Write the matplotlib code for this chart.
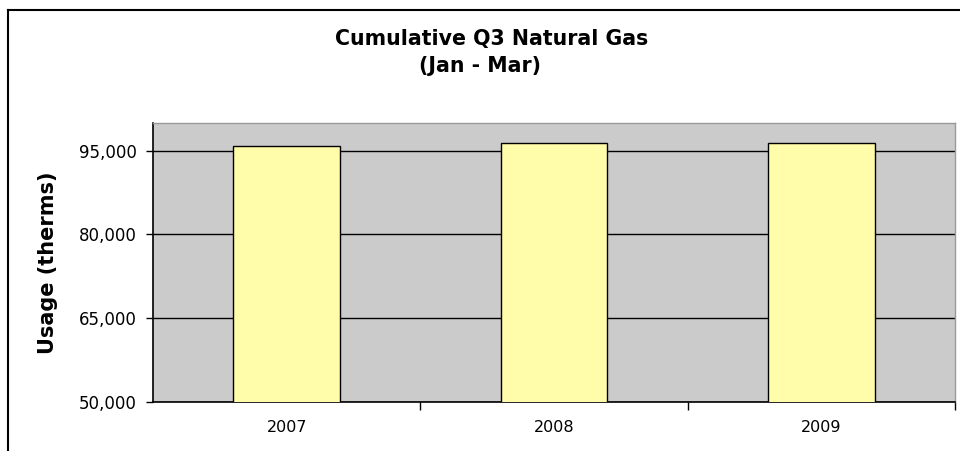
import matplotlib
matplotlib.use("Agg")
import matplotlib.pyplot as plt
from matplotlib.lines import Line2D
from matplotlib.ticker import FuncFormatter, FixedLocator

years = ["2007", "2008", "2009"]
usage = [95900, 96380, 96380]
yticks = [50000, 65000, 80000, 95000]

fig = plt.figure(figsize=(9.6, 4.51), dpi=100)
fig.patch.set_facecolor("white")

# figure border (top and left visible)
fig.add_artist(Line2D([8/960, 8/960], [0, 1 - 10/451], transform=fig.transFigure,
                      color="black", lw=1.5))
fig.add_artist(Line2D([8/960, 1], [1 - 10/451, 1 - 10/451], transform=fig.transFigure,
                      color="black", lw=1.5))

ax = fig.add_axes([153/960, (451-402)/451, (955-153)/960, (402-122.7)/451])
ax.set_facecolor("#CBCBCB")
x = list(range(len(years)))
ax.bar(x, usage, width=0.4, bottom=0, color="#FFFCAA", edgecolor="black", linewidth=1.0, zorder=3)
ax.set_xlim(-0.5, len(years) - 0.5)
ax.set_ylim(50000, 100000)
ax.yaxis.set_major_locator(FixedLocator(yticks))
ax.yaxis.set_major_formatter(FuncFormatter(lambda v, p: f"{int(v):,}"))
ax.grid(axis="y", color="black", lw=1.0, zorder=1)
ax.set_xticks(x)
ax.set_xticklabels(years)
ax.set_xticks([i + 0.5 for i in range(len(years))], minor=True)
ax.tick_params(axis="x", which="major", length=0, pad=13, labelsize=11.5)
ax.tick_params(axis="x", which="minor", length=6, width=1.0, direction="out")
ax.tick_params(axis="y", length=5, width=1.0, direction="out", labelsize=12, pad=6.5)
for s in ["top", "right"]:
    ax.spines[s].set_color("#999999")
    ax.spines[s].set_linewidth(1.0)
for s in ["left", "bottom"]:
    ax.spines[s].set_color("black")
    ax.spines[s].set_linewidth(1.2)
ax.set_ylabel("Usage (therms)", fontsize=15, fontweight="bold", labelpad=15)

fig.text(492/960, 1 - 39/451, "Cumulative Q3 Natural Gas", ha="center", va="center",
         fontsize=14.8, fontweight="bold")
fig.text(480/960, 1 - 66/451, "(Jan - Mar)", ha="center", va="center",
         fontsize=14.8, fontweight="bold")

fig.savefig("out.png", dpi=100)
